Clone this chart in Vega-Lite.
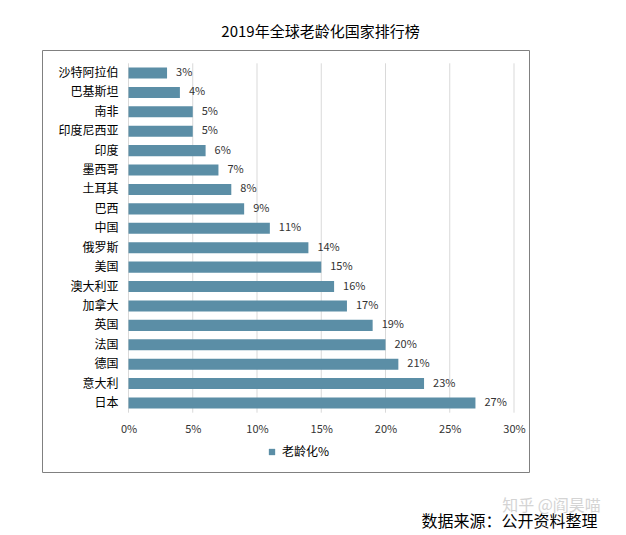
{
  "$schema": "https://vega.github.io/schema/vega-lite/v6.json",
  "width": 487,
  "height": 422,
  "autosize": {"type": "none"},
  "padding": {"left": 42, "top": 50, "right": 97, "bottom": 63},
  "background": "white",
  "title": {"text": "2019年全球老龄化国家排行榜", "fontSize": 15, "fontWeight": "normal", "font": "Noto Sans CJK SC", "color": "#000000", "anchor": "middle", "dx": 35, "offset": 10},
  "config": {"view": {"stroke": "#808080", "strokeWidth": 1}, "font": "Noto Sans CJK SC"},
  "data": {"values": [
    {"country": "沙特阿拉伯", "value": 0.03},
    {"country": "巴基斯坦", "value": 0.04},
    {"country": "南非", "value": 0.05},
    {"country": "印度尼西亚", "value": 0.05},
    {"country": "印度", "value": 0.06},
    {"country": "墨西哥", "value": 0.07},
    {"country": "土耳其", "value": 0.08},
    {"country": "巴西", "value": 0.09},
    {"country": "中国", "value": 0.11},
    {"country": "俄罗斯", "value": 0.14},
    {"country": "美国", "value": 0.15},
    {"country": "澳大利亚", "value": 0.16},
    {"country": "加拿大", "value": 0.17},
    {"country": "英国", "value": 0.19},
    {"country": "法国", "value": 0.20},
    {"country": "德国", "value": 0.21},
    {"country": "意大利", "value": 0.23},
    {"country": "日本", "value": 0.27}
  ]},
  "encoding": {
    "x": {
      "field": "value", "type": "quantitative",
      "scale": {"domain": [0, 0.3], "range": [86.5, 472], "nice": false},
      "axis": {
        "title": "数据来源：公开资料整理", "titleX": 467, "titleY": 108, "titleAlign": "center", "titleAnchor": null, "titleBaseline": "middle",
        "titleFontSize": 16, "titleFontWeight": "normal", "titleColor": "#000000",
        "offset": -59, "format": ".0%", "values": [0, 0.05, 0.1, 0.15, 0.2, 0.25, 0.3],
        "domain": false, "ticks": false, "labelPadding": 10, "labelFontSize": 11, "labelColor": "#333333", "labelFlush": false,
        "grid": false
      }
    }
  },
  "layer": [
    {
      "data": {"values": [
        {"value": 0}, {"value": 0.05}, {"value": 0.1}, {"value": 0.15}, {"value": 0.2}, {"value": 0.25}, {"value": 0.3}
      ]},
      "mark": {"type": "rule", "color": "#d9d9d9", "strokeWidth": 1},
      "encoding": {
        "y": {"datum": 0, "type": "quantitative", "scale": {"domain": [0, 1], "range": [13.3, 362.7]}, "axis": null},
        "y2": {"datum": 1}
      }
    },
    {
      "encoding": {
        "y": {
          "field": "country", "type": "nominal", "sort": null,
          "scale": {"range": [13.3, 362.7], "paddingInner": 0.43, "paddingOuter": 0.215},
          "axis": {
            "orient": "left",
            "title": "知乎 @阎昊喵", "titleAngle": 0, "titleX": 423, "titleY": 455, "titleAlign": "center", "titleBaseline": "middle",
            "titleColor": "#d4d4d4", "titleFontSize": 16, "titleFontWeight": "normal",
            "offset": -86, "domain": false, "ticks": false, "labelPadding": 10, "labelFontSize": 12, "labelColor": "#000000", "grid": false
          }
        }
      },
      "layer": [
        {
          "mark": {"type": "bar"},
          "encoding": {
            "color": {
              "datum": "老龄化%",
              "scale": {"range": ["#5b8ea6"]},
              "legend": {"orient": "none", "legendX": 224, "legendY": 396, "title": null, "symbolType": "square", "symbolSize": 40, "labelFontSize": 12, "labelColor": "#000000", "symbolStrokeWidth": 0}
            }
          }
        },
        {
          "mark": {"type": "text", "align": "left", "baseline": "middle", "dx": 9, "fontSize": 11, "color": "#333333"},
          "encoding": {"text": {"field": "value", "format": ".0%"}}
        }
      ]
    }
  ],
  "resolve": {"scale": {"y": "independent"}, "axis": {"y": "independent"}}
}
